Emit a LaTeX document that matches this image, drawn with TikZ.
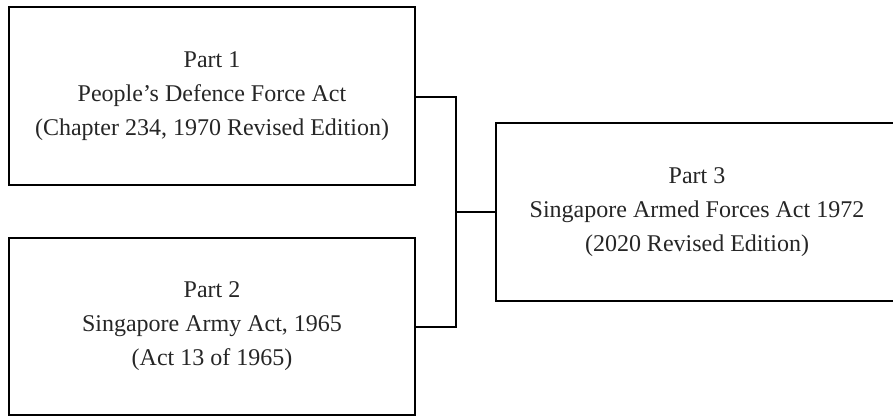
\documentclass[tikz,border=0pt]{standalone}
\usepackage{fontspec}
\setmainfont{Liberation Serif}
\begin{document}
\begin{tikzpicture}[x=1pt,y=-1pt,
  partbox/.style={draw=black, line width=1.6pt, fill=white, align=center,
    font=\fontsize{24}{34}\selectfont, text=black!85, inner sep=0pt},
  link/.style={draw=black, line width=1.6pt}]
\useasboundingbox (0,0) rectangle (893,418);
\node[partbox, minimum width=406pt, minimum height=178pt] (p1) at (212,96)
  {Part 1\\People’s Defence Force Act\\(Chapter 234, 1970 Revised Edition)};
\node[partbox, minimum width=406pt, minimum height=177pt] (p2) at (212,326.5)
  {Part 2\\Singapore Army Act, 1965\\(Act 13 of 1965)};
\node[partbox, minimum width=402pt, minimum height=178pt] (p3) at (697,212)
  {Part 3\\Singapore Armed Forces Act 1972\\(2020 Revised Edition)};
\coordinate (j) at (456,212);
\draw[link, line join=miter] (p1.east |- 0,97) -| (j) |- (p2.east |- 0,327);
\draw[link] (j) -- (p3.west);
\end{tikzpicture}
\end{document}
